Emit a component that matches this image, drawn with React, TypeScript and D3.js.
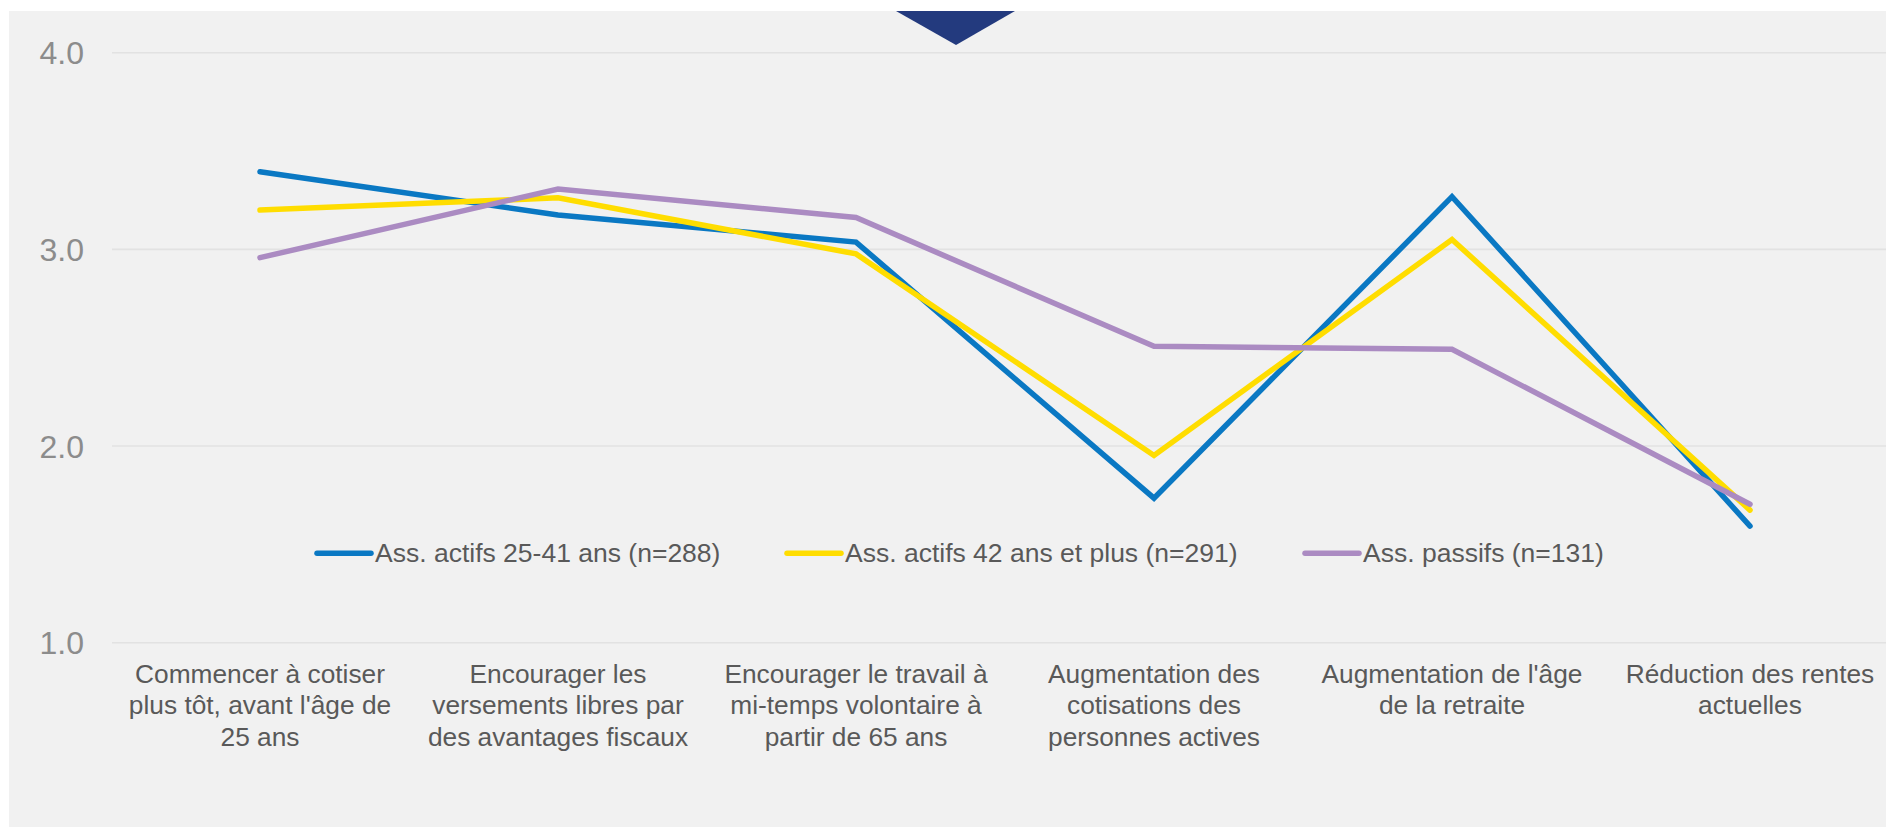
import React from "react";
import * as d3 from "d3";

const categories: string[] = [
  "Commencer à cotiser\nplus tôt, avant l'âge de\n25 ans",
  "Encourager les\nversements libres par\ndes avantages fiscaux",
  "Encourager le travail à\nmi-temps volontaire à\npartir de 65 ans",
  "Augmentation des\ncotisations des\npersonnes actives",
  "Augmentation de l'âge\nde la retraite",
  "Réduction des rentes\nactuelles",
];

const seriesNames: string[] = [
  "Ass. actifs 25-41 ans (n=288)",
  "Ass. actifs 42 ans et plus (n=291)",
  "Ass. passifs (n=131)",
];

const actifsJeunes: number[] = [3.395, 3.175, 3.037, 1.735, 3.268, 1.593];
const actifsAges: number[] = [3.2, 3.262, 2.977, 1.952, 3.05, 1.674];
const passifs: number[] = [2.958, 3.307, 3.162, 2.507, 2.492, 1.704];

const yTicks: number[] = [1, 2, 3, 4];

const colors = ["#0A78C3", "#FFDD00", "#AB8BC2"];

const W = 1886;
const H = 827;
const FONT = "'Liberation Sans', Arial, Helvetica, sans-serif";

export default function App() {
  const series = [actifsJeunes, actifsAges, passifs];
  const x = d3.scalePoint<string>().domain(categories).range([260, 1750]);
  const y = d3.scaleLinear().domain([1, 4]).range([642.7, 52.7]);
  const line = d3
    .line<number>()
    .x((_, i) => x(categories[i]) as number)
    .y((d) => y(d));

  const legendX = [317, 787, 1305];
  const legendY = 553.3;

  return (
    <svg
      width={W}
      height={H}
      style={{ position: "absolute", left: 0, top: 0, display: "block" }}
      fontFamily={FONT}
    >
      <rect x={0} y={0} width={W} height={H} fill="#ffffff" />
      <rect x={9} y={11} width={W - 9} height={H - 11} fill="#F1F1F1" />
      {yTicks.map((t) => (
        <g key={t}>
          <line x1={112} x2={W} y1={y(t)} y2={y(t)} stroke="#E2E2E2" strokeWidth={1.6} />
          <text
            x={84}
            y={y(t)}
            dy="0.36em"
            textAnchor="end"
            fontSize={32}
            fill="#8C8C8C"
          >
            {d3.format(".1f")(t)}
          </text>
        </g>
      ))}
      <path d="M896,11 L1015,11 L956,45 Z" fill="#233A7E" />
      {series.map((s, i) => (
        <path
          key={i}
          d={line(s) || ""}
          fill="none"
          stroke={colors[i]}
          strokeWidth={5.5}
          strokeLinejoin="miter"
          strokeLinecap="round"
        />
      ))}
      {categories.map((c) => (
        <text key={c} textAnchor="middle" fontSize={26.3} fill="#595959">
          {c.split("\n").map((ln, j) => (
            <tspan key={j} x={x(c)} y={682.7 + j * 31.7}>
              {ln}
            </tspan>
          ))}
        </text>
      ))}
      {seriesNames.map((n, i) => (
        <g key={n}>
          <line
            x1={legendX[i]}
            x2={legendX[i] + 54}
            y1={legendY}
            y2={legendY}
            stroke={colors[i]}
            strokeWidth={5.5}
            strokeLinecap="round"
          />
          <text x={legendX[i] + 58} y={562.3} fontSize={26.5} fill="#595959">
            {n}
          </text>
        </g>
      ))}
    </svg>
  );
}
